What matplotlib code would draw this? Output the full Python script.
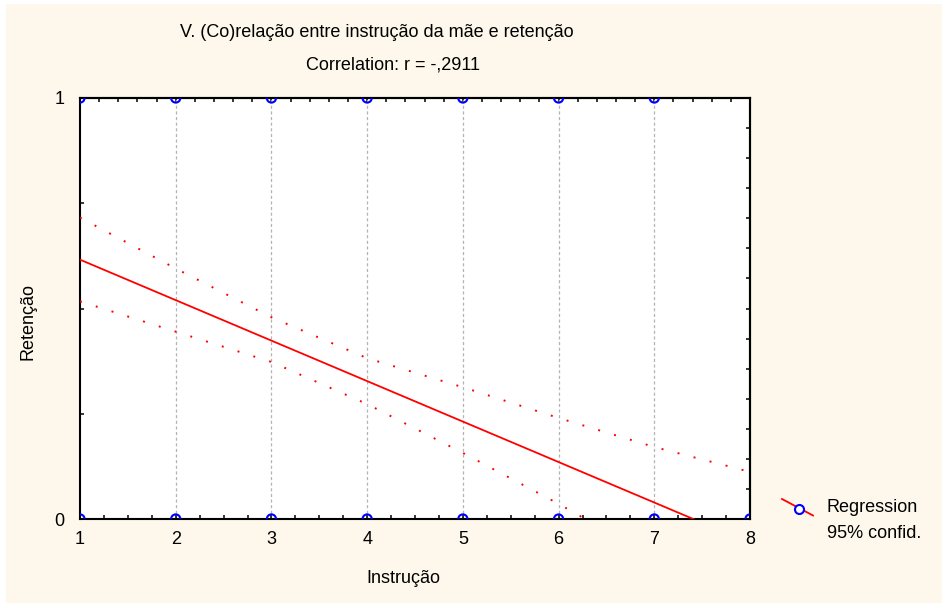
import numpy as np
import matplotlib
matplotlib.use('Agg')
import matplotlib.pyplot as plt
from matplotlib.lines import Line2D
from matplotlib.patches import Rectangle
from matplotlib.ticker import NullFormatter

plt.rcParams['font.family'] = ['Liberation Sans', 'DejaVu Sans']

# observed points (instrucao vs retencao, binary outcome)
instrucao = [1, 2, 3, 4, 5, 6, 7, 1, 2, 3, 4, 5, 6, 7, 8]
retencao = [1, 1, 1, 1, 1, 1, 1, 0, 0, 0, 0, 0, 0, 0, 0]

# regression line and 95% confidence band
reg_x = [1, 8]
reg_y = [0.616, -0.057]
band_x = [1, 2, 3, 4, 5, 6, 7, 8]
band_hi = [0.716, 0.595, 0.479, 0.382, 0.313, 0.240, 0.171, 0.112]
band_lo = [0.517, 0.445, 0.373, 0.273, 0.157, 0.036, -0.093, -0.226]

title1 = 'V. (Co)relação entre instrução da mãe e retenção'
title2 = 'Correlation: r = -,2911'

W, H = 942, 603
bg = '#FDF8EB'
fig = plt.figure(figsize=(W / 100, H / 100), dpi=100, facecolor='white')
fig.patches.append(Rectangle((6 / W, 0), 1 - 6 / W, 1 - 4 / H, transform=fig.transFigure,
                             facecolor=bg, edgecolor='none', zorder=-10))

def fx(px):
    return px / W

def fy(py):
    return 1 - py / H

ax = fig.add_axes([fx(80), fy(519), fx(750) - fx(80), fy(98) - fy(519)])
ax.set_facecolor('white')
ax.set_xlim(1, 8)
ax.set_ylim(0, 1)

for gx in range(2, 8):
    ax.axvline(gx, color='#B4B4B4', lw=0.9, ls=(0, (2.5, 2)), zorder=1)

ax.plot(reg_x, reg_y, color='red', lw=1.3, zorder=3)
ax.plot(band_x, band_hi, color='red', lw=1.4, ls=(0, (1, 7.5)), zorder=3)
ax.plot(band_x, band_lo, color='red', lw=1.4, ls=(0, (1, 7.5)), zorder=3)
# points sit on the frame, so they get cut in half like the original
ax.scatter(instrucao, retencao, s=44, facecolors='none', edgecolors='#0000FF',
           linewidths=1.5, zorder=4, clip_on=True)

# ticks
ax.set_xticks(range(1, 9))
ax.set_xticks(np.arange(1, 8.01, 0.25), minor=True)
ax.set_yticks([0, 1])
ax.set_yticks([0.25, 0.5, 0.75], minor=True)
ax.tick_params(which='both', direction='in', length=3.2, width=1.1, color='black',
               top=False, right=False, labelsize=13)
ax.tick_params(axis='x', pad=9)
ax.tick_params(axis='y', pad=11)

top = ax.secondary_xaxis('top')
top.set_xticks(np.arange(1, 8.01, 0.2))
top.xaxis.set_major_formatter(NullFormatter())
top.tick_params(direction='in', length=3.2, width=1.1)
right = ax.secondary_yaxis('right')
right.set_yticks(np.arange(15) / 14)
right.yaxis.set_major_formatter(NullFormatter())
right.tick_params(direction='in', length=3.2, width=1.1)

for a in (ax, top, right):
    for s in a.spines.values():
        s.set_linewidth(1.5)
        s.set_color('black')

# titles and labels
fig.text(fx(377), fy(37), title1, ha='center', va='baseline', fontsize=13)
fig.text(fx(393.5), fy(69), title2, ha='center', va='baseline', fontsize=13)
fig.text(fx(403), fy(583), 'Instrução', ha='center', va='baseline', fontsize=13)
fig.text(fx(28.5), fy(321), 'Retenção', ha='center', va='center', rotation=90, fontsize=13)

# legend key
fig.lines.append(Line2D([fx(782), fx(813)], [fy(499), fy(515.5)], transform=fig.transFigure,
                        color='red', lw=1.3))
fig.lines.append(Line2D([fx(798.7)], [fy(508.5)], transform=fig.transFigure, marker='o',
                        ms=6.5, mfc='white', mec='#0000FF', mew=1.5, ls='none'))
fig.text(fx(827), fy(512), 'Regression', ha='left', va='baseline', fontsize=13)
fig.text(fx(827), fy(538), '95% confid.', ha='left', va='baseline', fontsize=13)

fig.savefig('out.png', dpi=100, facecolor=fig.get_facecolor())
